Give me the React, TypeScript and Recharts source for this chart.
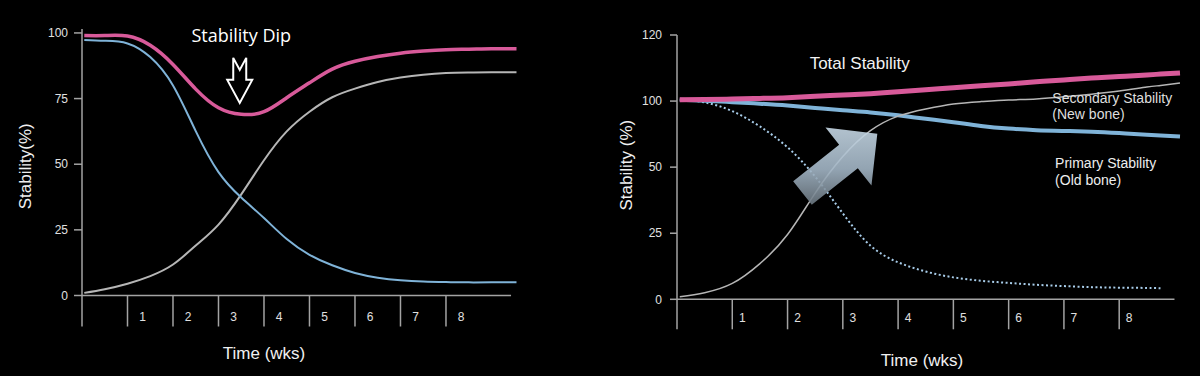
import * as React from 'react'

import {
  LineChart,
  Line,
  XAxis,
  YAxis,
  ReferenceLine,
  ReferenceDot,
} from 'recharts'

// left panel: stability dip (weeks vs %)
const weeksLeft = [0.05, 0.5, 1, 1.5, 2, 2.5, 3, 3.5, 4, 4.5, 5, 5.5, 6, 6.5, 7, 7.5, 8, 8.5, 9, 9.55]
const totalLeft = [99, 99, 98.8, 95.3, 88, 78.6, 71.5, 69, 70, 75.3, 81, 86.2, 89.2, 91, 92.3, 93.1, 93.6, 93.8, 94, 94]
const primaryLeft = [97.3, 97, 96, 90.8, 80, 62.6, 47, 37.3, 29.5, 21.5, 15.5, 11.5, 8.6, 6.8, 5.8, 5.3, 5.1, 5, 5, 5]
const secondaryLeft = [1, 2.4, 4.5, 7.4, 11.8, 19, 27, 38.5, 51.5, 62.5, 70, 75.5, 78.8, 81.3, 83, 84.1, 84.7, 84.9, 85, 85]

// right panel: values are read as positions on its evenly spaced axis
const weeksRight = [0.05, 0.5, 1, 1.5, 2, 2.5, 3, 3.5, 4, 4.5, 5, 5.5, 6, 6.5, 7, 7.5, 8, 8.5, 8.75, 9.1]
const totalRight = [75.5, 75.6, 75.75, 76, 76.3, 76.8, 77.3, 77.8, 78.5, 79.3, 80, 80.8, 81.5, 82.3, 83, 83.7, 84.3, 84.9, 85.2, 85.6]
const primaryRight = [75.5, 75.1, 74.6, 74, 73.3, 72.4, 71.5, 70.7, 69.6, 68.3, 67, 65.6, 64.6, 64, 63.7, 63.4, 62.9, 62.3, 62, 61.6]
const oldBoneRight = [75.5, 74.5, 71.2, 65.4, 57.5, 46.4, 32.5, 20.3, 14, 10.5, 8.3, 7, 6.2, 5.5, 5, 4.6, 4.4, 4.3, 4.2, null]
const secondaryRight = [1, 2.5, 6, 13.5, 24.5, 40.2, 54, 63.8, 69.3, 72, 73.9, 74.8, 75.4, 75.8, 76.6, 77.6, 78.8, 80.3, 80.9, 81.8]

const weekTicks = [0, 1, 2, 3, 4, 5, 6, 7, 8]
const weekLabels = ['', '1', '2', '3', '4', '5', '6', '7', '8']
const yTicksLeft = [0, 25, 50, 75, 100]
const yTicksRight = [0, 25, 50, 75, 100]
const yLabelsRight = ['0', '25', '50', '100', '120']

const leftRows = weeksLeft.map((week, i) => ({
  week,
  total: totalLeft[i],
  primary: primaryLeft[i],
  secondary: secondaryLeft[i],
}))

const rightRows = weeksRight.map((week, i) => ({
  week,
  total: totalRight[i],
  primary: primaryRight[i],
  oldBone: oldBoneRight[i],
  secondary: secondaryRight[i],
}))

const FONT = '"Liberation Sans", Arial, sans-serif'
const AXIS = '#a3a3a3'
const PINK = '#d85a9a'
const BLUE = '#7fb3d8'
const GREY = '#b6b6b6'

const WeekTick = (props: any) => {
  const { x, y, payload, shiftX, shiftY } = props
  const label = weekLabels[weekTicks.indexOf(payload.value)]
  if (!label) return null
  return (
    <text
      x={x + shiftX}
      y={y + shiftY}
      textAnchor="middle"
      dominantBaseline="central"
      fill="#e0e0e0"
      fontSize={12}
      fontFamily={FONT}
    >
      {label}
    </text>
  )
}

const yTitle = (text: string, dx: number, dy: number) => (props: any) => {
  const { x, y, height } = props.viewBox
  const cx = x + dx
  const cy = y + height / 2 + dy
  return (
    <text
      x={cx}
      y={cy}
      transform={`rotate(-90 ${cx} ${cy})`}
      textAnchor="middle"
      dominantBaseline="central"
      fill="#f0f0f0"
      fontSize={17}
      fontFamily={FONT}
    >
      {text}
    </text>
  )
}

const xTitle = (text: string, dx: number, dy: number) => (props: any) => {
  const { x, y } = props.viewBox
  return (
    <text
      x={x + dx}
      y={y + dy}
      textAnchor="middle"
      dominantBaseline="central"
      fill="#f0f0f0"
      fontSize={17}
      fontFamily={FONT}
    >
      {text}
    </text>
  )
}

const DipMarker = (props: any) => {
  const { cx, cy } = props
  return (
    <g>
      <text
        x={cx}
        y={cy}
        textAnchor="middle"
        fill="#ffffff"
        fontSize={18}
        fontFamily='"Open Sans", sans-serif'
      >
        Stability Dip
      </text>
      <path
        transform={`translate(${cx - 1.5},${cy + 16})`}
        d="M-6.5,0 L0,12 L6.5,0 L6.5,22 L12.5,22 L0,45 L-12.5,22 L-6.5,22 Z"
        fill="#000"
        stroke="#fff"
        strokeWidth={2}
      />
    </g>
  )
}

const GrowthArrow = (props: any) => {
  const { cx, cy } = props
  return (
    <g transform={`translate(${cx},${cy}) rotate(-38.4)`} opacity={0.9}>
      <defs>
        <linearGradient id="growthFill" x1="0" y1="1" x2="1" y2="0">
          <stop offset="0" stopColor="#4e565c" />
          <stop offset="0.45" stopColor="#a3b6c6" />
          <stop offset="1" stopColor="#d9eaf6" />
        </linearGradient>
      </defs>
      <path
        d="M0,-15 L58.7,-15 L58.7,-37 L95.5,0 L58.7,37 L58.7,15 L0,15 Z"
        fill="url(#growthFill)"
      />
    </g>
  )
}

const TextNote = (lines: string[], size: number, color: string, gap: number) => (props: any) => {
  const { cx, cy } = props
  return (
    <text x={cx} y={cy} fill={color} fontSize={size} fontFamily={FONT}>
      {lines.map((line, i) => (
        <tspan key={line} x={cx} dy={i === 0 ? 0 : gap}>
          {line}
        </tspan>
      ))}
    </text>
  )
}

const LeftChart = () => (
  <LineChart
    width={600}
    height={376}
    data={leftRows}
    margin={{ top: 29, right: 83.5, bottom: 30.5, left: 0 }}
  >
    <XAxis
      type="number"
      dataKey="week"
      domain={[0, 9.55]}
      ticks={weekTicks}
      interval={0}
      axisLine={false}
      tickLine={{ stroke: AXIS, strokeWidth: 1.5 }}
      tickSize={31}
      tickMargin={0}
      height={50}
      tick={<WeekTick shiftX={15} shiftY={-10} />}
      label={xTitle('Time (wks)', 182, 57.5)}
    />
    <YAxis
      type="number"
      domain={[0, 101.5]}
      ticks={yTicksLeft}
      interval={0}
      width={82}
      axisLine={{ stroke: AXIS, strokeWidth: 1.5 }}
      tickLine={{ stroke: AXIS, strokeWidth: 1.5 }}
      tickSize={8}
      tickMargin={6}
      tick={{ fill: '#e0e0e0', fontSize: 12, fontFamily: FONT }}
      label={yTitle('Stability(%)', 25.5, 4)}
    />
    <ReferenceLine
      segment={[{ x: 0, y: 0 }, { x: 9.43, y: 0 }]}
      stroke={AXIS}
      strokeWidth={1.5}
    />
    <Line type="natural" dataKey="secondary" stroke={GREY} strokeWidth={2} dot={false} isAnimationActive={false} />
    <Line type="natural" dataKey="primary" stroke={BLUE} strokeWidth={2} dot={false} isAnimationActive={false} />
    <Line type="natural" dataKey="total" stroke={PINK} strokeWidth={3.5} dot={false} isAnimationActive={false} />
    <ReferenceDot x={3.5} y={96.6} r={0} shape={DipMarker} />
  </LineChart>
)

const RightChart = () => (
  <LineChart
    width={600}
    height={376}
    data={rightRows}
    margin={{ top: 35, right: 20, bottom: 26.7, left: 0 }}
  >
    <XAxis
      type="number"
      dataKey="week"
      domain={[0, 9.1]}
      ticks={weekTicks}
      interval={0}
      axisLine={false}
      tickLine={{ stroke: AXIS, strokeWidth: 1.5 }}
      tickSize={30}
      tickMargin={0}
      height={50}
      tick={<WeekTick shiftX={10} shiftY={-11} />}
      label={xTitle('Time (wks)', 245, 60.7)}
    />
    <YAxis
      type="number"
      domain={[0, 100]}
      ticks={yTicksRight}
      interval={0}
      width={77}
      axisLine={{ stroke: AXIS, strokeWidth: 1.5 }}
      tickLine={{ stroke: AXIS, strokeWidth: 1.5 }}
      tickSize={7}
      tickMargin={8}
      tick={{ fill: '#e0e0e0', fontSize: 12, fontFamily: FONT }}
      tickFormatter={(v: number) => yLabelsRight[yTicksRight.indexOf(v)]}
      label={yTitle('Stability (%)', 27, -2)}
    />
    <ReferenceLine
      segment={[{ x: 0, y: 0 }, { x: 9.0, y: 0 }]}
      stroke={AXIS}
      strokeWidth={1.5}
    />
    <ReferenceDot x={2.27} y={40.2} r={0} shape={GrowthArrow} />
    <Line type="natural" dataKey="oldBone" stroke="#a8cdea" strokeWidth={2} strokeDasharray="2 2.5" dot={false} isAnimationActive={false} />
    <Line type="natural" dataKey="primary" stroke={BLUE} strokeWidth={4} dot={false} isAnimationActive={false} />
    <Line type="natural" dataKey="secondary" stroke={GREY} strokeWidth={1.5} dot={false} isAnimationActive={false} />
    <Line type="natural" dataKey="total" stroke={PINK} strokeWidth={5} dot={false} isAnimationActive={false} />
    <ReferenceDot x={2.4} y={87.3} r={0} shape={TextNote(['Total Stability'], 17, '#f2f2f2', 0)} />
    <ReferenceDot x={6.79} y={74.2} r={0} shape={TextNote(['Secondary Stability', '(New bone)'], 14, '#dedede', 16)} />
    <ReferenceDot x={6.84} y={49.6} r={0} shape={TextNote(['Primary Stability', '(Old bone)'], 14, '#eeeeee', 16.7)} />
  </LineChart>
)

export default function App() {
  return (
    <div
      style={{
        position: 'absolute',
        left: 0,
        top: 0,
        width: 1200,
        height: 376,
        background: '#000',
        overflow: 'hidden',
      }}
    >
      <div style={{ position: 'absolute', left: 0, top: 0 }}>
        <LeftChart />
      </div>
      <div style={{ position: 'absolute', left: 600, top: 0 }}>
        <RightChart />
      </div>
    </div>
  )
}
